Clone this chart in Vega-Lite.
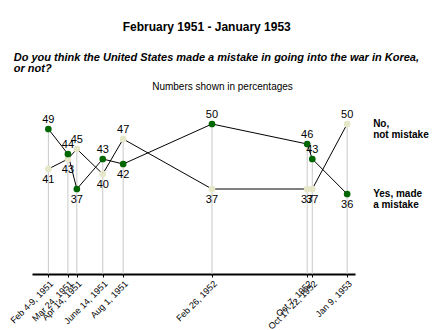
{
  "$schema": "https://vega.github.io/schema/vega-lite/v6.json",
  "background": "white",
  "padding": {"left": 8, "top": 21, "right": 5, "bottom": 0},
  "config": {"view": {"stroke": null}, "font": "Liberation Sans", "concat": {"spacing": 0}},
  "title": {"text": "February 1951 - January 1953", "font": "Liberation Sans", "fontSize": 12, "fontWeight": "bold", "color": "black", "anchor": "middle", "frame": "bounds", "offset": 18, "dx": -12},
  "vconcat": [
    {
      "width": 323,
      "height": 175,
      "title": {"text": ["Do you think the United States made a mistake in going into the war in Korea,", "or not?"], "font": "Liberation Sans", "fontSize": 11, "fontStyle": "italic", "fontWeight": "bold", "color": "black", "anchor": "start", "frame": "bounds", "lineHeight": 11, "offset": 7, "dx": 5},
      "data": {"values": [
        {"date": "1951-02-06T12:00:00", "label": "Feb 4-9, 1951", "series": "No,\nnot mistake", "value": 41},
        {"date": "1951-03-24T12:00:00", "label": "Mar 24, 1951", "series": "No,\nnot mistake", "value": 43},
        {"date": "1951-04-14T12:00:00", "label": "Apr 14, 1951", "series": "No,\nnot mistake", "value": 45},
        {"date": "1951-06-14T12:00:00", "label": "June 14, 1951", "series": "No,\nnot mistake", "value": 40},
        {"date": "1951-08-01T12:00:00", "label": "Aug 1, 1951", "series": "No,\nnot mistake", "value": 47},
        {"date": "1952-02-26T12:00:00", "label": "Feb 26, 1952", "series": "No,\nnot mistake", "value": 37},
        {"date": "1952-10-07T12:00:00", "label": "Oct 7, 1952", "series": "No,\nnot mistake", "value": 37},
        {"date": "1952-10-19T12:00:00", "label": "Oct 17-22, 1952", "series": "No,\nnot mistake", "value": 37},
        {"date": "1953-01-09T12:00:00", "label": "Jan 9, 1953", "series": "No,\nnot mistake", "value": 50},
        {"date": "1951-02-06T12:00:00", "label": "Feb 4-9, 1951", "series": "Yes, made\na mistake", "value": 49},
        {"date": "1951-03-24T12:00:00", "label": "Mar 24, 1951", "series": "Yes, made\na mistake", "value": 44},
        {"date": "1951-04-14T12:00:00", "label": "Apr 14, 1951", "series": "Yes, made\na mistake", "value": 37},
        {"date": "1951-06-14T12:00:00", "label": "June 14, 1951", "series": "Yes, made\na mistake", "value": 43},
        {"date": "1951-08-01T12:00:00", "label": "Aug 1, 1951", "series": "Yes, made\na mistake", "value": 42},
        {"date": "1952-02-26T12:00:00", "label": "Feb 26, 1952", "series": "Yes, made\na mistake", "value": 50},
        {"date": "1952-10-07T12:00:00", "label": "Oct 7, 1952", "series": "Yes, made\na mistake", "value": 46},
        {"date": "1952-10-19T12:00:00", "label": "Oct 17-22, 1952", "series": "Yes, made\na mistake", "value": 43},
        {"date": "1953-01-09T12:00:00", "label": "Jan 9, 1953", "series": "Yes, made\na mistake", "value": 36}
      ]},
      "transform": [
        {"joinaggregate": [{"op": "max", "field": "value", "as": "maxv"}], "groupby": ["date"]}
      ],
      "resolve": {"axis": {"x": "independent"}},
      "layer": [
        {
          "mark": {"type": "rule", "color": "#c8c8c8", "strokeWidth": 1},
          "encoding": {
            "x": {"field": "date", "type": "temporal",
                  "scale": {"domain": [{"year": 1950, "month": 12, "date": 30}, {"year": 1953, "month": 1, "date": 28}]},
                  "axis": {"orient": "top", "title": "Numbers shown in percentages", "titleFontSize": 10, "titleFontWeight": "normal", "titleColor": "black", "titleFont": "Liberation Sans", "titlePadding": 8, "titleX": 190, "domain": false, "ticks": false, "labels": false, "grid": false}},
            "y": {"aggregate": "max", "field": "value", "type": "quantitative", "scale": {"domain": [20, 55], "nice": false, "zero": false}, "axis": null},
            "y2": {"datum": 20}
          }
        },
        {
          "mark": {"type": "line", "color": "black", "strokeWidth": 1},
          "encoding": {
            "x": {"field": "date", "type": "temporal",
                  "axis": {"orient": "bottom", "title": null, "grid": false, "domainColor": "black", "domainWidth": 2, "tickColor": "black", "tickSize": 3, "tickWidth": 1,
                           "values": [{"year": 1951, "month": 2, "date": 6, "hours": 12}, {"year": 1951, "month": 3, "date": 24, "hours": 12}, {"year": 1951, "month": 4, "date": 14, "hours": 12}, {"year": 1951, "month": 6, "date": 14, "hours": 12}, {"year": 1951, "month": 8, "date": 1, "hours": 12}, {"year": 1952, "month": 2, "date": 26, "hours": 12}, {"year": 1952, "month": 10, "date": 7, "hours": 12}, {"year": 1952, "month": 10, "date": 19, "hours": 12}, {"year": 1953, "month": 1, "date": 9, "hours": 12}],
                           "labelExpr": "{'1951-02-06': 'Feb 4-9, 1951', '1951-03-24': 'Mar 24, 1951', '1951-04-14': 'Apr 14, 1951', '1951-06-14': 'June 14, 1951', '1951-08-01': 'Aug 1, 1951', '1952-02-26': 'Feb 26, 1952', '1952-10-07': 'Oct 7, 1952', '1952-10-19': 'Oct 17-22, 1952', '1953-01-09': 'Jan 9, 1953'}[timeFormat(datum.value, '%Y-%m-%d')]",
                           "labelAngle": -45, "labelFontSize": 9, "labelColor": "black", "labelFont": "Liberation Sans", "labelPadding": 2, "labelOverlap": false, "labelBound": false, "labelFlush": false}},
            "y": {"field": "value", "type": "quantitative"},
            "detail": {"field": "series"}
          }
        },
        {
          "mark": {"type": "point", "filled": true, "opacity": 1, "size": 45},
          "encoding": {
            "x": {"field": "date", "type": "temporal", "axis": null},
            "y": {"field": "value", "type": "quantitative"},
            "color": {"field": "series", "type": "nominal", "scale": {"range": ["#e6e6c8", "#006600"]}, "legend": null}
          }
        },
        {
          "transform": [{"filter": "datum.value == datum.maxv"}],
          "mark": {"type": "text", "baseline": "bottom", "dy": -4, "fontSize": 11, "color": "black"},
          "encoding": {
            "x": {"field": "date", "type": "temporal", "axis": null},
            "y": {"field": "value", "type": "quantitative"},
            "text": {"field": "value", "type": "quantitative"}
          }
        },
        {
          "transform": [{"filter": "datum.value < datum.maxv"}],
          "mark": {"type": "text", "baseline": "top", "dy": 5, "fontSize": 11, "color": "black"},
          "encoding": {
            "x": {"field": "date", "type": "temporal", "axis": null},
            "y": {"field": "value", "type": "quantitative"},
            "text": {"field": "value", "type": "quantitative"}
          }
        },
        {
          "transform": [{"joinaggregate": [{"op": "max", "field": "date", "as": "lastDate"}]}, {"filter": "datum.date == datum.lastDate"}],
          "mark": {"type": "text", "align": "left", "baseline": "middle", "dx": 26, "fontSize": 10, "fontWeight": "bold", "color": "black", "lineBreak": "\n", "lineHeight": 11},
          "encoding": {
            "x": {"field": "date", "type": "temporal", "axis": null},
            "y": {"field": "value", "type": "quantitative"},
            "text": {"field": "series", "type": "nominal"}
          }
        }
      ]
    }
  ]
}
